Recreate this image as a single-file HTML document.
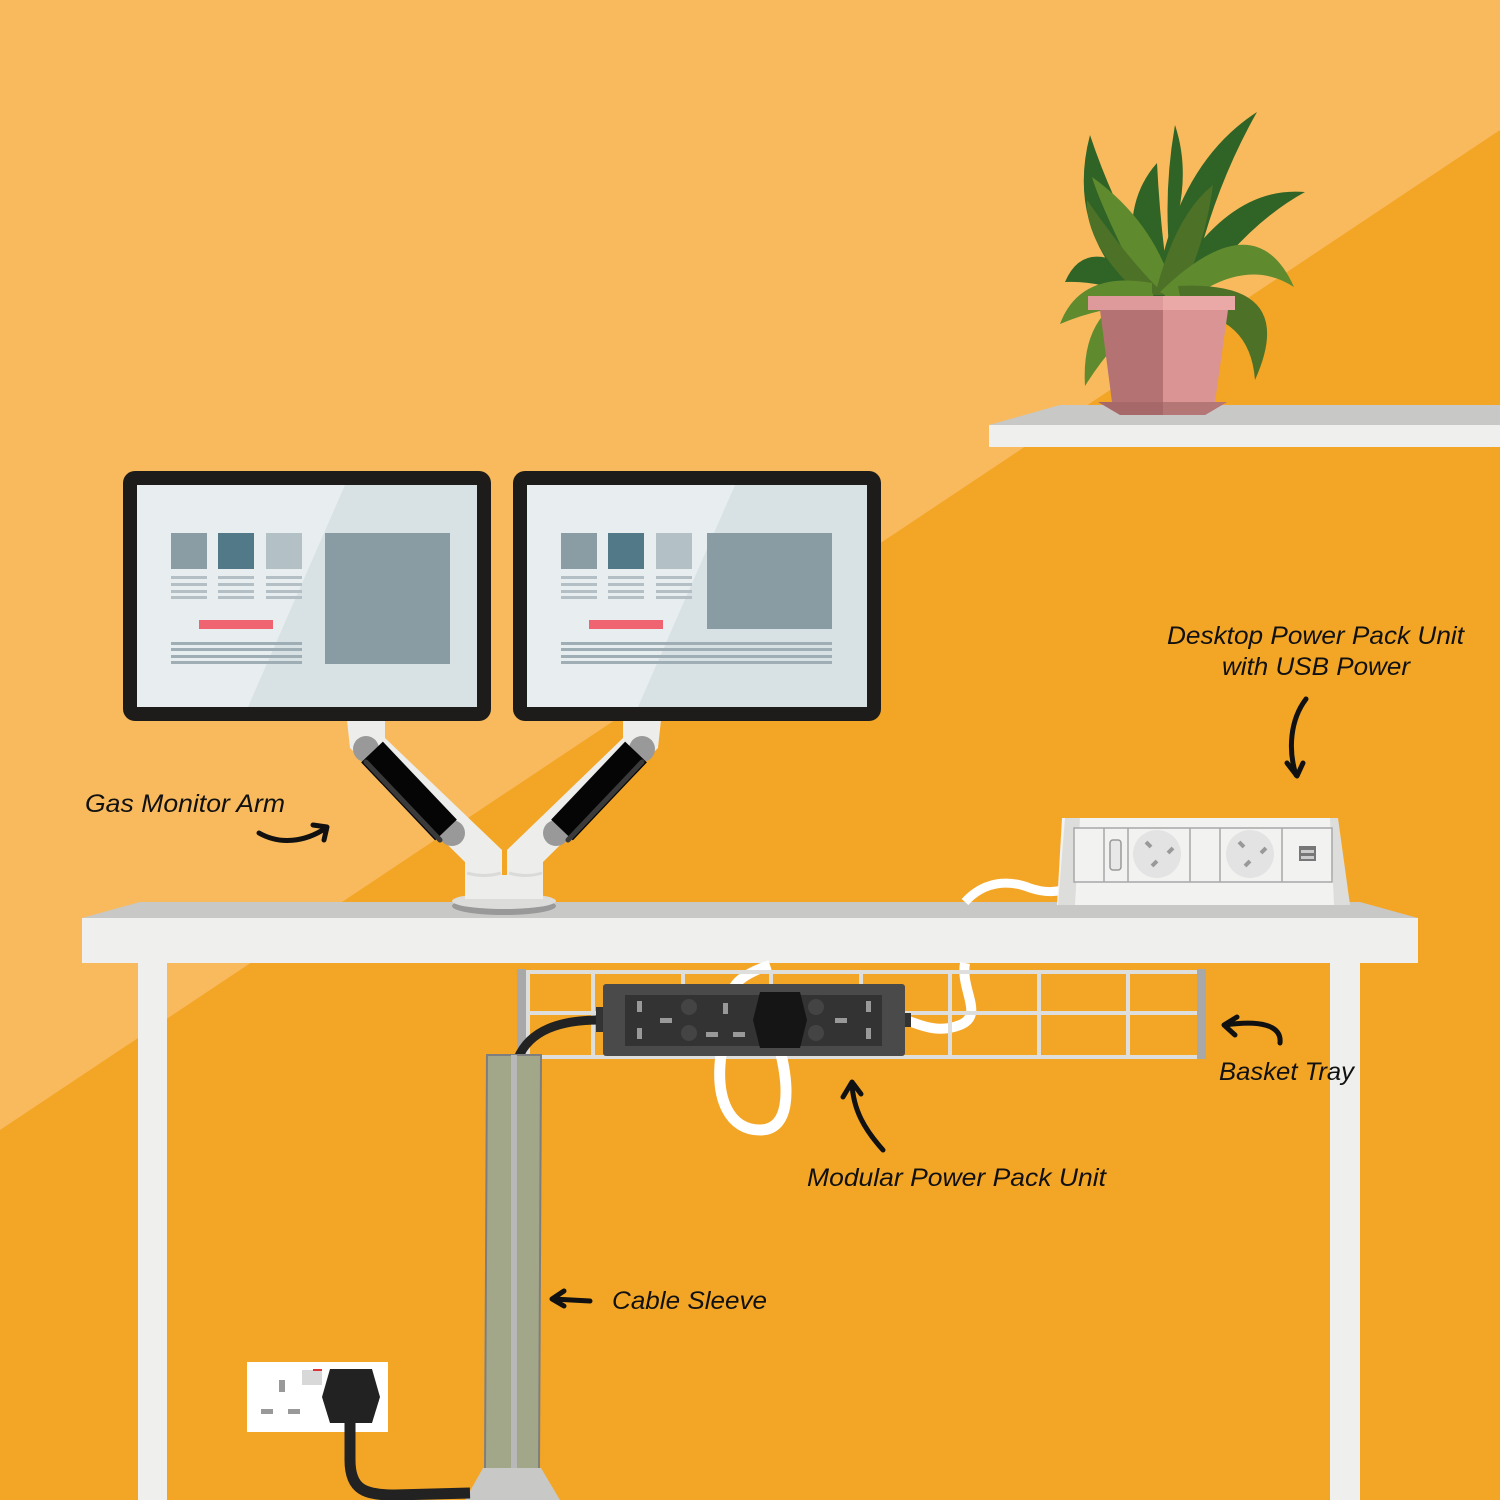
<!DOCTYPE html>
<html><head><meta charset="utf-8"><style>html,body{margin:0;padding:0;width:1500px;height:1500px;overflow:hidden}svg{display:block}</style></head>
<body>
<svg width="1500" height="1500" viewBox="0 0 1500 1500" xmlns="http://www.w3.org/2000/svg">
<rect width="1500" height="1500" fill="#F3A526"/>
<polygon points="0,0 1500,0 1500,130 0,1130" fill="#F9BA5E"/>

<!-- shelf -->
<polygon points="989,425 1060,405 1500,405 1500,425" fill="#C8C8C6"/>
<rect x="989" y="425" width="511" height="22" fill="#EFEFED"/>

<!-- plant leaves -->
<g>
<path d="M1140,300 Q1065,230 1090,135 Q1120,225 1170,295 Z" fill="#2F6426"/>
<path d="M1145,295 Q1200,200 1175,125 Q1160,210 1175,295 Z" fill="#2F6426"/>
<path d="M1155,295 Q1175,165 1257,112 Q1210,195 1190,295 Z" fill="#2F6426"/>
<path d="M1165,295 Q1225,185 1305,192 Q1245,225 1195,298 Z" fill="#2F6426"/>
<path d="M1140,275 Q1085,235 1065,282 Q1100,280 1150,300 Z" fill="#2F6426"/>
<path d="M1143,295 Q1115,210 1157,163 Q1160,225 1170,295 Z" fill="#2F6426"/>
<path d="M1145,295 Q1100,205 1092,177 Q1155,222 1175,295 Z" fill="#5F8A2E"/>
<path d="M1140,295 Q1085,245 1087,200 Q1130,262 1165,295 Z" fill="#4E7128"/>
<path d="M1155,295 Q1175,215 1213,185 Q1205,245 1180,295 Z" fill="#4E7128"/>
<path d="M1160,292 Q1255,200 1294,287 Q1245,255 1182,305 Z" fill="#5F8A2E"/>
<path d="M1178,286 Q1300,280 1255,380 Q1250,315 1183,312 Z" fill="#4E7128"/>
<path d="M1152,283 Q1080,270 1060,324 Q1105,305 1152,305 Z" fill="#5F8A2E"/>
<path d="M1150,288 Q1080,305 1085,386 Q1120,330 1160,310 Z" fill="#5F8A2E"/>
</g>
<!-- pot -->
<polygon points="1100,310 1163,310 1163,402 1112,402" fill="#B47272"/>
<polygon points="1163,310 1228,310 1215,402 1163,402" fill="#D99493"/>
<rect x="1088" y="296" width="75" height="14" fill="#DE9A9A"/>
<rect x="1163" y="296" width="72" height="14" fill="#EAA8A6"/>
<polygon points="1098,402 1227,402 1205,415 1120,415" fill="#A66868"/>
<polygon points="1163,402 1227,402 1205,415 1163,415" fill="#B57676"/>

<!-- desk -->
<polygon points="82,918 140,902 1360,902 1418,918" fill="#C8C8C6"/>
<rect x="82" y="918" width="1336" height="45" fill="#EFEFED"/>
<rect x="138" y="963" width="29" height="537" fill="#EFEFED"/>
<rect x="1330" y="963" width="30" height="537" fill="#EFEFED"/>

<!-- monitor arm -->
<g>
<polygon points="347,720 385,720 385,738 502,850 502,890 465,890 465,862 350,748" fill="#EDEDEB"/>
<polygon points="661,720 623,720 623,738 507,850 507,890 543,890 543,862 658,748" fill="#EDEDEB"/>
<rect x="465" y="875" width="78" height="20" fill="#EDEDEB"/>
<path d="M467,873 Q484,878 501,873" stroke="#DADAD8" stroke-width="3" fill="none"/>
<path d="M509,873 Q526,878 542,873" stroke="#DADAD8" stroke-width="3" fill="none"/>
<circle cx="366" cy="749" r="13" fill="#999"/>
<circle cx="452" cy="833" r="13" fill="#999"/>
<circle cx="642" cy="749" r="13" fill="#999"/>
<circle cx="556" cy="833" r="13" fill="#999"/>
<line x1="372" y1="752" x2="446" y2="830" stroke="#050505" stroke-width="30" stroke-linejoin="round"/>
<line x1="636" y1="752" x2="562" y2="830" stroke="#050505" stroke-width="30"/>
<line x1="366" y1="762" x2="440" y2="840" stroke="#3A3A3A" stroke-width="5" stroke-linecap="round"/>
<line x1="642" y1="762" x2="568" y2="840" stroke="#3A3A3A" stroke-width="5" stroke-linecap="round"/>
<ellipse cx="504" cy="906" rx="52" ry="9" fill="#999"/>
<ellipse cx="504" cy="901" rx="52" ry="8" fill="#DCDCDA"/>
<rect x="465" y="885" width="78" height="14" fill="#EDEDEB"/>
</g>

<!-- monitors -->
<defs>
<clipPath id="s1"><rect x="137" y="485" width="340" height="222"/></clipPath>
<clipPath id="s2"><rect x="527" y="485" width="340" height="222"/></clipPath>
</defs>
<rect x="123" y="471" width="368" height="250" rx="12" fill="#1E1C1A"/>
<rect x="513" y="471" width="368" height="250" rx="12" fill="#1E1C1A"/>
<g clip-path="url(#s1)">
<rect x="137" y="485" width="340" height="222" fill="#E8EEF0"/>
<polygon points="345,485 477,485 477,707 248,707" fill="#D8E1E3"/>
</g>
<g clip-path="url(#s2)">
<rect x="527" y="485" width="340" height="222" fill="#E8EEF0"/>
<polygon points="735,485 867,485 867,707 638,707" fill="#D8E1E3"/>
</g>
<g id="m1">
<rect x="171" y="533" width="36" height="36" fill="#8A9CA4"/>
<rect x="218" y="533" width="36" height="36" fill="#527987"/>
<rect x="266" y="533" width="36" height="36" fill="#B3C0C6"/>
<g fill="#B3BFC5">
<rect x="171" y="576" width="36" height="3"/><rect x="171" y="583" width="36" height="3"/><rect x="171" y="590" width="36" height="3"/><rect x="171" y="596" width="36" height="3"/>
<rect x="218" y="576" width="36" height="3"/><rect x="218" y="583" width="36" height="3"/><rect x="218" y="590" width="36" height="3"/><rect x="218" y="596" width="36" height="3"/>
<rect x="266" y="576" width="36" height="3"/><rect x="266" y="583" width="36" height="3"/><rect x="266" y="590" width="36" height="3"/><rect x="266" y="596" width="36" height="3"/>
</g>
<rect x="199" y="620" width="74" height="9" fill="#EF6470"/>
</g>
<g fill="#9FAEB5">
<rect x="171" y="642" width="131" height="3"/><rect x="171" y="648" width="131" height="3"/><rect x="171" y="655" width="131" height="3"/><rect x="171" y="661" width="131" height="3"/>
<rect x="561" y="642" width="271" height="3"/><rect x="561" y="648" width="271" height="3"/><rect x="561" y="655" width="271" height="3"/><rect x="561" y="661" width="271" height="3"/>
</g>
<rect x="325" y="533" width="125" height="131" fill="#899CA4"/>
<use href="#m1" x="390"/>
<rect x="707" y="533" width="125" height="96" fill="#899CA4"/>

<!-- desktop power unit cable -->
<path d="M965,902 C985,880 1010,880 1030,888 C1045,893 1055,892 1062,890" stroke="#fff" stroke-width="9" fill="none"/>
<!-- desktop power unit -->
<polygon points="1062,818 1335,818 1350,905 1057,905" fill="#F2F2F1"/>
<path d="M1065,818 L1080,818 L1075,905 L1058,905 Z" fill="#DDDDDC"/>
<path d="M1330,818 L1338,818 L1350,905 L1334,905 Z" fill="#DDDDDC"/>
<rect x="1074" y="828" width="258" height="54" fill="#F2F2F1" stroke="#A8A8A8" stroke-width="1.5"/>
<g stroke="#A8A8A8" stroke-width="1.5"><line x1="1104" y1="828" x2="1104" y2="882"/><line x1="1128" y1="828" x2="1128" y2="882"/><line x1="1190" y1="828" x2="1190" y2="882"/><line x1="1220" y1="828" x2="1220" y2="882"/><line x1="1282" y1="828" x2="1282" y2="882"/></g>
<rect x="1110" y="840" width="11" height="30" rx="3" fill="#E8E8E8" stroke="#999" stroke-width="1.5"/>
<circle cx="1157" cy="854" r="24" fill="#E3E3E3"/>
<circle cx="1250" cy="854" r="24" fill="#E3E3E3"/>
<g stroke="#999" stroke-width="4"><line x1="1146" y1="842" x2="1151" y2="847"/><line x1="1168" y1="853" x2="1173" y2="848"/><line x1="1152" y1="866" x2="1157" y2="861"/>
<line x1="1239" y1="842" x2="1244" y2="847"/><line x1="1261" y1="853" x2="1266" y2="848"/><line x1="1245" y1="866" x2="1250" y2="861"/></g>
<rect x="1299" y="846" width="17" height="15" fill="#777"/>
<rect x="1301" y="850" width="13" height="3" fill="#ccc"/><rect x="1301" y="856" width="13" height="3" fill="#ccc"/>

<!-- cables behind tray -->
<path d="M770,965 C740,975 720,990 740,1010" stroke="#fff" stroke-width="10" fill="none"/>
<path d="M965,963 C960,990 985,1015 960,1025 C935,1035 915,1022 905,1020" stroke="#fff" stroke-width="10" fill="none"/>

<!-- basket tray -->
<g stroke="#DEDEDC" stroke-width="4" fill="none">
<line x1="522" y1="972" x2="1202" y2="972"/>
<line x1="522" y1="1013" x2="1202" y2="1013"/>
<line x1="522" y1="1057" x2="1202" y2="1057"/>
<line x1="528" y1="972" x2="528" y2="1057"/><line x1="593" y1="972" x2="593" y2="1057"/><line x1="683" y1="972" x2="683" y2="1057"/><line x1="771" y1="972" x2="771" y2="1057"/><line x1="861" y1="972" x2="861" y2="1057"/><line x1="950" y1="972" x2="950" y2="1057"/><line x1="1039" y1="972" x2="1039" y2="1057"/><line x1="1128" y1="972" x2="1128" y2="1057"/>
</g>
<rect x="517" y="969" width="9" height="90" fill="#A8A8A8"/>
<rect x="1197" y="969" width="9" height="90" fill="#A8A8A8"/>

<!-- loop cable under modular -->
<path d="M721,1055 C715,1100 730,1130 760,1130 C790,1130 790,1090 780,1050" stroke="#fff" stroke-width="11" fill="none"/>
<!-- modular power pack -->
<path d="M600,1020 C560,1020 530,1030 518,1058" stroke="#222" stroke-width="9" fill="none"/>
<rect x="596" y="1007" width="10" height="25" fill="#333"/>
<rect x="903" y="1013" width="8" height="14" fill="#333"/>
<rect x="603" y="984" width="302" height="72" rx="3" fill="#4A4A4A"/>
<rect x="625" y="995" width="257" height="51" fill="#333"/>
<g fill="#444"><circle cx="689" cy="1007" r="8"/><circle cx="689" cy="1033" r="8"/><circle cx="816" cy="1007" r="8"/><circle cx="816" cy="1033" r="8"/></g>
<g fill="#999"><rect x="637" y="1001" width="5" height="11"/><rect x="637" y="1028" width="5" height="11"/><rect x="660" y="1018" width="12" height="5"/>
<rect x="723" y="1003" width="5" height="11"/><rect x="706" y="1032" width="12" height="5"/><rect x="733" y="1032" width="12" height="5"/>
<rect x="866" y="1001" width="5" height="11"/><rect x="866" y="1028" width="5" height="11"/><rect x="835" y="1018" width="12" height="5"/></g>
<polygon points="760,992 800,992 807,1020 800,1048 760,1048 753,1020" fill="#151515"/>

<!-- cable sleeve -->
<polygon points="487,1055 541,1055 539,1470 485,1470" fill="#A3A78A" stroke="#7E7E7E" stroke-width="2"/>
<rect x="511" y="1055" width="6" height="415" fill="#B8B8B8"/>
<polygon points="483,1468 541,1468 560,1500 465,1500" fill="#C8C8C6"/>

<!-- wall socket -->
<rect x="247" y="1362" width="141" height="70" fill="#fff"/>
<rect x="279" y="1380" width="6" height="12" fill="#999"/>
<rect x="261" y="1409" width="12" height="5" fill="#999"/><rect x="288" y="1409" width="12" height="5" fill="#999"/>
<rect x="302" y="1370" width="20" height="15" fill="#D8D8D8"/>
<rect x="313" y="1369" width="9" height="2" fill="#D33"/>
<path d="M350,1420 L350,1460 C350,1490 365,1495 395,1495 L470,1493" stroke="#222" stroke-width="11" fill="none"/>
<polygon points="330,1369 372,1369 380,1397 372,1423 330,1423 322,1397" fill="#222"/>

<!-- labels -->
<g font-family="'Liberation Sans', sans-serif" font-style="italic" font-size="25" fill="#111">
<text x="85" y="812" textLength="200" lengthAdjust="spacingAndGlyphs">Gas Monitor Arm</text>
<text x="1167" y="644" textLength="297" lengthAdjust="spacingAndGlyphs">Desktop Power Pack Unit</text>
<text x="1222" y="675" textLength="188" lengthAdjust="spacingAndGlyphs">with USB Power</text>
<text x="1219" y="1080" textLength="135" lengthAdjust="spacingAndGlyphs">Basket Tray</text>
<text x="807" y="1186" textLength="299" lengthAdjust="spacingAndGlyphs">Modular Power Pack Unit</text>
<text x="612" y="1309" textLength="155" lengthAdjust="spacingAndGlyphs">Cable Sleeve</text>
</g>
<g stroke="#111" stroke-width="5" fill="none" stroke-linecap="round" stroke-linejoin="round">
<path d="M259,833 C280,845 305,842 326,828"/><path d="M313,825 L327,827 L324,840"/>
<path d="M1306,699 C1290,720 1288,750 1296,775"/><path d="M1287,763 L1297,776 L1303,763"/>
<path d="M1280,1043 C1282,1025 1260,1020 1225,1025"/><path d="M1237,1017 L1224,1025 L1235,1035"/>
<path d="M883,1150 C865,1130 853,1110 852,1083"/><path d="M843,1097 L852,1082 L861,1094"/>
<path d="M590,1301 L553,1299"/><path d="M564,1291 L552,1299 L564,1306"/>
</g>
</svg>
</body></html>
